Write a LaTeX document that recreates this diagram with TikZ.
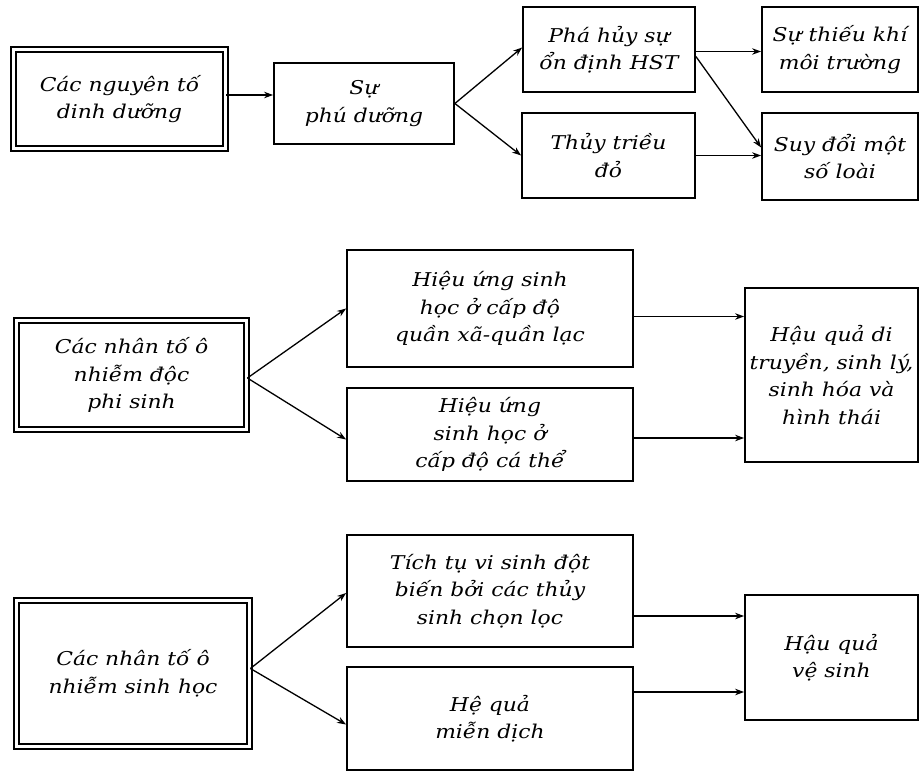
\documentclass[tikz,border=0pt]{standalone}
\usepackage{fontspec}
\setmainfont{DejaVu Serif}[FakeStretch=1.15]
\usetikzlibrary{arrows.meta}
\begin{document}
\begin{tikzpicture}[x=1pt,y=-1pt,
  every node/.style={font=\fontsize{19}{27.5}\selectfont\itshape, align=center, inner sep=0pt},
  box/.style={draw, line width=1.8pt, rectangle},
  dbox/.style={draw, line width=1.8pt, double, double distance=3.5pt, rectangle},
  arr/.style={line width=1.3pt, -{Stealth[length=9pt,width=6.5pt]}}]
\useasboundingbox (0,0) rectangle (920,773);
% Row 1
\node[dbox, minimum width=212pt, minimum height=99pt] (A) at (119.5,99) {Các nguyên tố\\dinh dưỡng};
\node[box, minimum width=180pt, minimum height=81pt] (B) at (364,103.5) {Sự\\phú dưỡng};
\node[box, minimum width=172pt, minimum height=85pt] (C) at (609,49.5) {Phá hủy sự\\ổn định HST};
\node[box, minimum width=173pt, minimum height=85pt] (D) at (608.5,155.5) {Thủy triều\\đỏ};
\node[box, minimum width=156pt, minimum height=85pt] (E) at (840,49.5) {Sự thiếu khí\\môi trường};
\node[box, minimum width=156pt, minimum height=87pt] (F) at (840,156.5) {Suy đổi một\\số loài};
\draw[arr] ([yshift=4pt]A.east) -- ([yshift=4pt]A.east -| B.west);
\draw[arr] (B.east) -- ([yshift=2pt]C.west);
\draw[arr] (B.east) -- (D.west);
\draw[arr] ([yshift=-2pt]C.east) -- ([yshift=-2pt]C.east -| E.west);
\draw[arr] ([yshift=-7pt]C.east) -- ([yshift=9pt]F.west);
\draw[arr] (D.east) -- (D.east -| F.west);
% Row 2
\node[dbox, minimum width=230pt, minimum height=109pt] (G) at (131.5,375) {Các nhân tố ô\\nhiễm độc\\phi sinh};
\node[box, minimum width=286pt, minimum height=117pt] (H) at (490,308.5) {Hiệu ứng sinh\\học ở cấp độ\\quần xã-quần lạc};
\node[box, minimum width=286pt, minimum height=93pt] (I) at (490,434.5) {Hiệu ứng\\sinh học ở\\cấp độ cá thể};
\node[box, minimum width=173pt, minimum height=174pt] (J) at (831.5,375) {Hậu quả di\\truyền, sinh lý,\\sinh hóa và\\hình thái};
\draw[arr] ([yshift=-3pt]G.east) -- (H.west);
\draw[arr] ([yshift=-3pt]G.east) -- ([yshift=-5pt]I.west);
\draw[arr] ([yshift=-8pt]H.east) -- ([yshift=-8pt]H.east -| J.west);
\draw[arr] ([yshift=-3.5pt]I.east) -- ([yshift=-3.5pt]I.east -| J.west);
% Row 3
\node[dbox, minimum width=233pt, minimum height=146pt] (K) at (133,673.5) {Các nhân tố ô\\nhiễm sinh học};
\node[box, minimum width=286pt, minimum height=112pt] (L) at (490,591) {Tích tụ vi sinh đột\\biến bởi các thủy\\sinh chọn lọc};
\node[box, minimum width=286pt, minimum height=103pt] (M) at (490,718.5) {Hệ quả\\miễn dịch};
\node[box, minimum width=173pt, minimum height=125pt] (N) at (831.5,657.5) {Hậu quả\\vệ sinh};
\draw[arr] ([yshift=5pt]K.east) -- ([yshift=-2pt]L.west);
\draw[arr] ([yshift=5pt]K.east) -- ([yshift=-6pt]M.west);
\draw[arr] ([yshift=-25pt]L.east) -- ([yshift=-25pt]L.east -| N.west);
\draw[arr] ([yshift=26.5pt]M.east) -- ([yshift=26.5pt]M.east -| N.west);
\end{tikzpicture}
\end{document}
